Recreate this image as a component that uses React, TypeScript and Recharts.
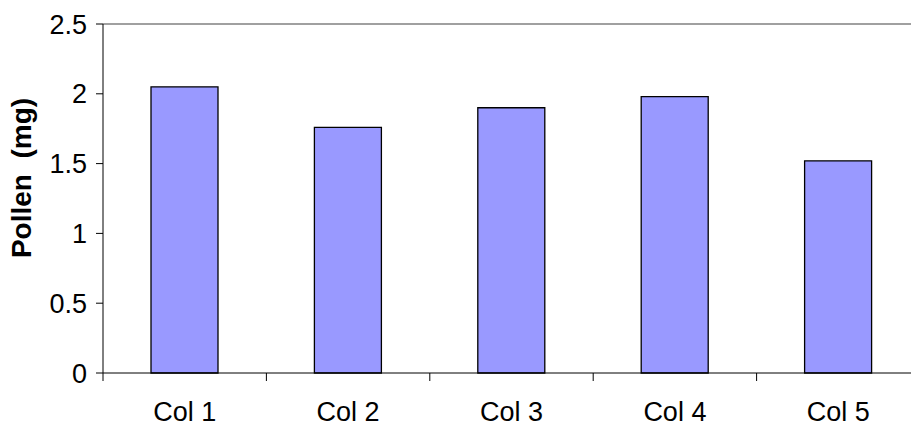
import React from 'react';
import { Bar, BarChart, ReferenceLine, XAxis, YAxis } from 'recharts';

const categories = ['Col 1', 'Col 2', 'Col 3', 'Col 4', 'Col 5'];
const pollen = [2.05, 1.76, 1.9, 1.98, 1.52];
const yTicks = [0, 0.5, 1, 1.5, 2, 2.5];

const data = categories.map((name, i) => ({ name, pollen: pollen[i] }));

const CHART_W = 930;
const CHART_H = 427;
const MARGIN = { top: 24, right: 10, left: 43, bottom: 0 };
const Y_AXIS_W = 60;
const FONT = '"Liberation Sans", Arial, sans-serif';

const plotW = CHART_W - MARGIN.left - MARGIN.right - Y_AXIS_W;
const halfBand = plotW / categories.length / 2;

const XTick = (props: any) => {
  const { x, y, payload, index } = props;
  return (
    <g>
      <line x1={x - halfBand} x2={x - halfBand} y1={y} y2={y + 8} stroke="#000" />
      {index === categories.length - 1 && (
        <line x1={x + halfBand} x2={x + halfBand} y1={y} y2={y + 8} stroke="#000" />
      )}
      <text x={x} y={y + 48} textAnchor="middle" fontSize={27} fontFamily={FONT} fill="#000">
        {payload.value}
      </text>
    </g>
  );
};

const YLabel = () => (
  <text
    x={21}
    y={178}
    transform="rotate(-90 21 178)"
    textAnchor="middle"
    dominantBaseline="central"
    fontSize={28}
    fontWeight="bold"
    fontFamily={FONT}
    fill="#000"
    style={{ whiteSpace: 'pre' }}
  >
    {'Pollen  (mg)'}
  </text>
);

export default function App() {
  return (
    <div style={{ position: 'absolute', left: 0, top: 0, width: 911, height: 427, overflow: 'hidden', background: '#fff' }}>
      <BarChart width={CHART_W} height={CHART_H} data={data} margin={MARGIN} barSize={67}>
        <ReferenceLine y={2.5} stroke="#808080" strokeWidth={1.5} />
        <XAxis
          dataKey="name"
          height={54}
          tickLine={false}
          tickSize={0}
          tickMargin={0}
          axisLine={{ stroke: '#000' }}
          tick={<XTick />}
          interval={0}
        />
        <YAxis
          width={Y_AXIS_W}
          domain={[0, 2.5]}
          ticks={yTicks}
          tickSize={7}
          tickMargin={9}
          axisLine={{ stroke: '#000' }}
          tickLine={{ stroke: '#000' }}
          tick={{ fontSize: 27, fill: '#000', fontFamily: FONT }}
          label={<YLabel />}
        />
        <Bar dataKey="pollen" fill="#9999FF" stroke="#000" strokeWidth={1.3} isAnimationActive={false} />
      </BarChart>
    </div>
  );
}
